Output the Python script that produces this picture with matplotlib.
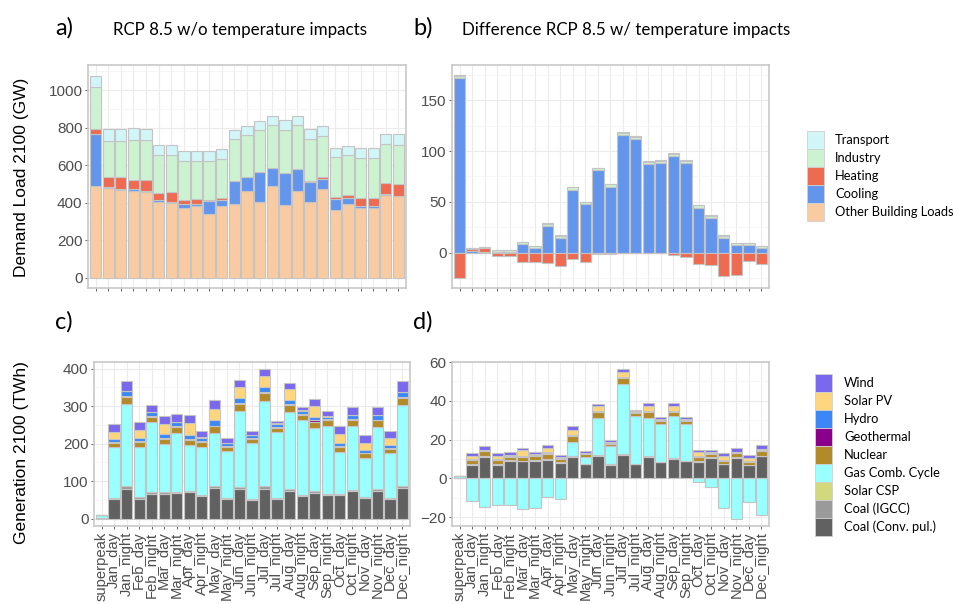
import numpy as np
import matplotlib
matplotlib.use("Agg")
import matplotlib.pyplot as plt
from matplotlib.patches import Rectangle

plt.rcParams["font.family"] = ["Liberation Sans", "DejaVu Sans"]

periods = ["superpeak", "Jan_day", "Jan_night", "Feb_day", "Feb_night", "Mar_day", "Mar_night",
           "Apr_day", "Apr_night", "May_day", "May_night", "Jun_day", "Jun_night", "Jul_day",
           "Jul_night", "Aug_day", "Aug_night", "Sep_day", "Sep_night", "Oct_day", "Oct_night",
           "Nov_day", "Nov_night", "Dec_day", "Dec_night"]

# a) demand load, GW
a_other = [488, 478, 470, 465, 460, 402, 398, 372, 381, 342, 382, 391, 465, 405, 490, 386, 465, 405, 471, 363, 393, 372, 370, 441, 434]
a_cooling = [278, 5, 2, 9, 4, 12, 7, 24, 12, 65, 32, 124, 70, 158, 96, 172, 117, 108, 58, 55, 32, 12, 11, 5, 1]
a_heating = [27, 53, 64, 50, 56, 39, 50, 20, 25, 7, 13, 2, 1, 2, 0, 0, 0, 4, 6, 14, 14, 43, 46, 58, 66]
a_industry = [226, 195, 195, 211, 213, 204, 202, 209, 207, 211, 208, 221, 223, 221, 226, 231, 230, 221, 223, 212, 214, 210, 210, 208, 207]
a_transport = [56, 60, 60, 61, 62, 53, 53, 51, 53, 51, 53, 51, 52, 51, 50, 50, 52, 53, 53, 46, 50, 53, 53, 56, 60]

# b) difference w/ temperature impacts, GW
b_other = [0] * 25
b_cooling = [172, 1.5, 0.5, 1, 1, 8.2, 4.2, 26.5, 14.7, 62, 47.7, 81.4, 65, 115.7, 112, 87, 88, 95, 88.2, 44.4, 34.3, 14.4, 7.2, 7.2, 4.2]
b_heating = [-25, 2, 4, -3, -3, -9, -9, -10, -13.5, -6, -9.5, -1.3, -1.3, -0.5, -0.5, -0.5, -0.5, -2.6, -4, -11.5, -12.5, -23, -22.5, -8, -11]
b_industry = [2.5, 1, 1, 1, 1, 2.2, 1.8, 2, 2, 2.3, 2, 1.8, 2.2, 2.5, 2.3, 2.4, 2.4, 2.3, 2.3, 2.3, 2, 2.2, 2, 2, 2.2]
b_transport = [0.4] * 25

# c) generation, TWh
c_coal_conv = [1, 52, 80, 53, 66, 66, 67, 70, 59, 81, 52, 80, 50, 80, 52, 73, 59, 69, 62, 62, 73, 54, 73, 52, 81]
c_coal_igcc = [1, 4, 6, 4, 4, 4, 4, 4, 3, 5, 3, 5, 2, 6, 2, 6, 3, 4, 3, 3, 4, 3, 6, 2, 6]
c_solar_csp = [0] * 25
c_gas = [7, 135, 220, 135, 187, 128, 158, 121, 130, 142, 125, 203, 150, 229, 176, 206, 200, 170, 183, 113, 169, 105, 165, 121, 217]
c_nuclear = [0, 12, 18, 13, 14, 15, 15, 16, 13, 18, 12, 18, 11, 19, 12, 17, 14, 16, 14, 14, 17, 12, 18, 11, 19]
c_geo = [0, 1, 2, 1, 2, 1, 3, 2, 2, 2, 1, 3, 2, 3, 2, 3, 3, 3, 3, 2, 2, 1, 2, 1, 2]
c_hydro = [0, 8, 14, 9, 11, 12, 11, 11, 9, 14, 8, 13, 8, 13, 9, 12, 9, 10, 7, 9, 11, 9, 12, 8, 12]
c_pv = [0, 20, 1, 22, 1, 27, 1, 30, 1, 31, 1, 29, 1, 30, 1, 29, 1, 28, 1, 24, 1, 19, 1, 19, 1]
c_wind = [0, 20, 26, 20, 19, 22, 20, 22, 17, 23, 13, 19, 9, 18, 7, 16, 10, 18, 14, 20, 20, 19, 21, 20, 28]

# d) difference in generation, TWh
d_coal_conv = [0, 7, 11, 7, 9, 8.8, 9, 9.7, 8, 11.3, 7.4, 11.6, 7, 12, 7.3, 11, 8.4, 10, 8.8, 8.5, 10.4, 7.2, 10.4, 6.7, 11.4]
d_coal_igcc = [0, 0.3, 0.4, 0.3, 0.3, 0.3, 0.3, 0.3, 0.3, 0.4, 0.2, 0.4, 0.2, 0.4, 0.2, 0.4, 0.3, 0.4, 0.3, 0.3, 0.4, 0.3, 0.4, 0.3, 0.4]
d_solar_csp = [0] * 25
d_gas = [1.5, -11.5, -14.5, -13.8, -13.5, -15.9, -15, -9.8, -10.7, 7.3, 3.4, 19.4, 9.4, 36.5, 24.8, 20, 19.4, 21.6, 18.8, -2, -4.3, -15, -21, -12, -19]
d_nuclear = [0, 2.3, 2.7, 2.0, 2.0, 2.1, 2.4, 2.8, 1.8, 3.0, 1.4, 2.7, 1.3, 3.0, 1.5, 2.8, 1.7, 2.2, 1.9, 2.0, 2.0, 1.6, 2.1, 1.6, 2.5]
d_geo = [0] + [0.3] * 24
d_hydro = [0] + [0.3] * 24
d_pv = [0, 1.5, 0.2, 1.8, 0.2, 2.8, 0.2, 2.4, 0.2, 2.6, 0.2, 2.4, 0.2, 2.4, 0.2, 2.4, 0.2, 2.4, 0.2, 2.0, 0.2, 1.8, 0.2, 1.4, 0.2]
d_wind = [0, 1.4, 1.6, 1.3, 1.3, 1.3, 1.2, 1.4, 1.2, 1.6, 1.2, 1.5, 0.9, 1.4, 0.6, 1.5, 0.9, 1.5, 1.0, 1.5, 1.3, 1.5, 1.8, 1.3, 2.0]

load_names = ["Other Building Loads", "Cooling", "Heating", "Industry", "Transport"]
load_colors = ["#F9CBA2", "#6495ED", "#EE6A50", "#CDF2D2", "#D2F5F7"]
gen_names = ["Coal (Conv. pul.)", "Coal (IGCC)", "Solar CSP", "Gas Comb. Cycle", "Nuclear",
             "Geothermal", "Hydro", "Solar PV", "Wind"]
gen_colors = ["#616161", "#9A9A9A", "#D2D87C", "#99FFFF", "#B38A28",
              "#8B008B", "#3B87F7", "#FFD67E", "#7A68EE"]

W, H = 962, 604
fig = plt.figure(figsize=(W / 100, H / 100), dpi=100)


def rect(l, t, r, b):
    return [l / W, 1 - b / H, (r - l) / W, (b - t) / H]


def stacked(ax, series, colors):
    x = np.arange(len(periods))
    pos = np.zeros(len(periods))
    neg = np.zeros(len(periods))
    for vals, col in zip(series, colors):
        v = np.array(vals, dtype=float)
        bottom = np.where(v >= 0, pos, neg)
        ax.bar(x, v, 0.9, bottom=bottom, color=col, edgecolor="#C4C4C4", linewidth=0.8, zorder=3)
        pos = pos + np.where(v > 0, v, 0)
        neg = neg + np.where(v < 0, v, 0)


def style(ax, ylim, majors, minors, labels=False):
    ax.set_xlim(-0.6, len(periods) - 0.4)
    ax.set_ylim(*ylim)
    ax.set_yticks(majors)
    ax.set_yticks(minors, minor=True)
    ax.set_xticks(np.arange(len(periods)))
    ax.grid(True, which="major", color="#EBEBEB", linewidth=0.8, zorder=0)
    ax.grid(True, which="minor", axis="y", color="#F3F3F3", linewidth=0.5, zorder=0)
    ax.set_axisbelow(True)
    for s in ax.spines.values():
        s.set_color("#C8C8C8")
        s.set_linewidth(1.2)
    ax.tick_params(axis="both", which="major", color="#4D4D4D", length=2.5, width=0.6,
                   labelcolor="#4D4D4D", labelsize=11, pad=1.5)
    ax.tick_params(axis="y", which="minor", length=0)
    if labels:
        ax.set_xticklabels(periods, rotation=90, fontsize=10.6)
    else:
        ax.set_xticklabels([])


axA = fig.add_axes(rect(88, 65, 406, 288))
stacked(axA, [a_other, a_cooling, a_heating, a_industry, a_transport], load_colors)
style(axA, (-54, 1134), [0, 200, 400, 600, 800, 1000], [100, 300, 500, 700, 900, 1100])

axB = fig.add_axes(rect(452, 65, 769, 288))
stacked(axB, [b_other, b_cooling, b_heating, b_industry, b_transport], load_colors)
style(axB, (-35, 185), [0, 50, 100, 150], [-25, 25, 75, 125, 175])

axC = fig.add_axes(rect(94, 362, 410, 526))
stacked(axC, [c_coal_conv, c_coal_igcc, c_solar_csp, c_gas, c_nuclear, c_geo, c_hydro, c_pv, c_wind], gen_colors)
style(axC, (-20, 418), [0, 100, 200, 300, 400], [50, 150, 250, 350], labels=True)

axD = fig.add_axes(rect(452, 362, 769, 526))
stacked(axD, [d_coal_conv, d_coal_igcc, d_solar_csp, d_gas, d_nuclear, d_geo, d_hydro, d_pv, d_wind], gen_colors)
style(axD, (-24.5, 60), [-20, 0, 20, 40, 60], [-10, 10, 30, 50], labels=True)

# panel labels and titles
title_font = ["Lato", "DejaVu Sans"]
fig.text(55 / W, 1 - 28 / H, "a)", fontsize=17, va="center", ha="left", family=title_font)
fig.text(240 / W, 1 - 30 / H, "RCP 8.5 w/o temperature impacts", fontsize=12.2, va="center", ha="center", family=title_font)
fig.text(413 / W, 1 - 28 / H, "b)", fontsize=17, va="center", ha="left", family=title_font)
fig.text(626 / W, 1 - 30 / H, "Difference RCP 8.5 w/ temperature impacts", fontsize=12.2, va="center", ha="center", family=title_font)
fig.text(55 / W, 1 - 322 / H, "c)", fontsize=17, va="center", ha="left", family=title_font)
fig.text(413 / W, 1 - 322 / H, "d)", fontsize=17, va="center", ha="left", family=title_font)

fig.text(22 / W, 1 - 177 / H, "Demand Load 2100 (GW)", rotation=90, fontsize=12.5, va="center", ha="center")
fig.text(22 / W, 1 - 453 / H, "Generation 2100 (TWh)", rotation=90, fontsize=12.5, va="center", ha="center")


def legend(names, colors, x0, y0, tx):
    # names listed top to bottom
    for i, (n, c) in enumerate(zip(names, colors)):
        top = y0 + i * 18
        fig.add_artist(Rectangle((x0 / W, 1 - (top + 18) / H), 17 / W, 18 / H,
                                 transform=fig.transFigure, facecolor=c,
                                 edgecolor="#D0D0D0", linewidth=0.6))
        fig.text(tx / W, 1 - (top + 9) / H, n, fontsize=9.3, va="center", ha="left", family=title_font)


legend(load_names[::-1], load_colors[::-1], 807, 131, 835)
legend(gen_names[::-1], gen_colors[::-1], 815, 374, 844)

fig.savefig("out.png", dpi=100)
